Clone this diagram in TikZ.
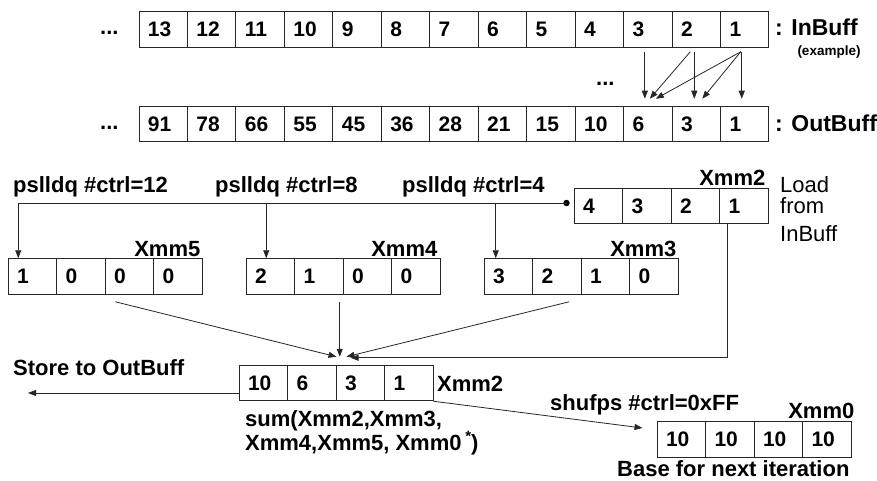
\documentclass[tikz,border=0pt]{standalone}
\usepackage{fontspec}
\setmainfont{Liberation Sans}
\usetikzlibrary{arrows.meta,calc}
\tikzset{
  cell/.style={draw=black!85, line width=1pt, minimum width=48.5pt, minimum height=35.5pt,
    inner sep=0pt, text width=30.5pt, align=left, font=\fontsize{21}{24}\selectfont\bfseries},
  bigcell/.style={cell, minimum width=48.46pt},
  lbl/.style={font=\fontsize{22}{26}\selectfont\bfseries, inner sep=0pt, anchor=base west},
  lblr/.style={lbl, anchor=base east},
  plain/.style={font=\fontsize{22}{26}\selectfont, inner sep=0pt, anchor=base west},
  arr/.style={draw=black!85, line width=0.8pt, -{Triangle[length=8pt,width=6pt]}},
  ln/.style={draw=black!85, line width=0.8pt}
}
\begin{document}
\begin{tikzpicture}[x=1pt,y=-1pt]
\useasboundingbox (0,0) rectangle (877,481);

% InBuff / OutBuff rows
\foreach \v [count=\i from 0] in {13,12,11,10,9,8,7,6,5,4,3,2,1}
  \node[bigcell] (in\i) at ({163.23+48.46*\i},29.5) {\v};
\foreach \v [count=\i from 0] in {91,78,66,55,45,36,28,21,15,10,6,3,1}
  \node[bigcell] (out\i) at ({163.23+48.46*\i},124) {\v};

\node[lbl] (dotsA) at (100,35) {...};
\node[lbl] (dotsB) at (100,130) {...};
\node[lbl] (dotsC) at (596,86) {...};
\node[lbl, font=\fontsize{23}{26}\selectfont\bfseries] (inlbl) at (775,36) {: InBuff};
\node[lbl, font=\fontsize{13.5}{15}\selectfont\bfseries, anchor=base] (exlbl) at (829,56) {(example)};
\node[lbl, font=\fontsize{23}{26}\selectfont\bfseries] (outlbl) at (775,132) {: OutBuff};

% prefix-sum arrows
\draw[arr] ($(in10.south)+(-3,4)$) -- ($(out10.north)+(-3,-7)$);
\draw[arr] ($(in11.south)+(-6,4)$) -- ($(out10.north)+(2,-7)$);
\draw[arr] ($(in11.south)+(-2,4)$) -- ($(out11.north)+(-2,-7)$);
\draw[arr] ($(in12.south)+(-4,4)$) -- ($(out10.north)+(8,-7)$);
\draw[arr] ($(in12.south)+(-4,4)$) -- ($(out11.north)+(6,-7)$);
\draw[arr] ($(in12.south)+(-3,4)$) -- ($(out12.north)+(-3,-7)$);

% registers
\foreach \v [count=\i from 0] in {4,3,2,1}
  \node[cell] (xb\i) at ({598.25+48.5*\i},206) {\v};
\foreach \v [count=\i from 0] in {1,0,0,0}
  \node[cell] (xf\i) at ({32.25+48.5*\i},276.5) {\v};
\foreach \v [count=\i from 0] in {2,1,0,0}
  \node[cell] (xe\i) at ({270.25+48.5*\i},276.5) {\v};
\foreach \v [count=\i from 0] in {3,2,1,0}
  \node[cell] (xd\i) at ({508.25+48.5*\i},276.5) {\v};
\foreach \v [count=\i from 0] in {10,6,3,1}
  \node[cell] (s\i) at ({263.25+48.5*\i},383) {\v};
\foreach \v [count=\i from 0] in {10,10,10,10}
  \node[cell] (z\i) at ({681.25+48.5*\i},439.5) {\v};

\node[lblr] (lxb) at ($(xb3.north east)+(-3,-2)$) {Xmm2};
\node[lblr] (lxf) at ($(xf3.north east)+(-2,-1.5)$) {Xmm5};
\node[lblr] (lxe) at ($(xe3.north east)+(-3,-1.5)$) {Xmm4};
\node[lblr] (lxd) at ($(xd3.north east)+(-2,-1.5)$) {Xmm3};
\node[lbl, anchor=base west] (ls) at (437,391) {Xmm2};
\node[lblr] (lz) at ($(z3.north east)+(3,-3)$) {Xmm0};

\node[plain] (load1) at (780,192) {Load};
\node[plain] (load2) at (780,213) {from};
\node[plain] (load3) at (780,241) {InBuff};

\node[lbl] (p12) at (13,192) {pslldq \#ctrl=12};
\node[lbl] (p8) at (215,192) {pslldq \#ctrl=8};
\node[lbl] (p4) at (402,192) {pslldq \#ctrl=4};

% shift distribution line
\coordinate (dot) at ($(xb0.west)+(-7,-3)$);
\fill[black] (dot) circle (3.2);
\draw[arr] (dot) -| ($(xf0.north)+(-14,0)$);
\coordinate (t4) at ($(xe0.north)+(-4,0)$);
\coordinate (t3) at ($(xd0.north)+(-12.5,0)$);
\draw[arr] (t4 |- dot) -- (t4);
\draw[arr] (t3 |- dot) -- (t3);

% into sum
\coordinate (tipy) at ($(s1.north east)+(0,-8)$);
\coordinate (v4) at ($(xe1.south)+(21,7)$);
\draw[arr] ($(xf2.south)+(-14,7)$) -- ($(s1.north east)+(0,-8)$);
\draw[arr] (v4) -- (v4 |- tipy);
\draw[arr] ($(xd1.south)+(12.5,7)$) -- ($(s1.north east)+(10,-8)$);
\draw[arr] ($(xb3.south)+(-16.5,0)$) |- ($(s1.north east)+(14,-7)$);

% sum outputs
\node[lbl] (store) at (13,375) {Store to OutBuff};
\coordinate (storeend) at (28,393);
\draw[arr] ($(s0.west)+(0,10)$) -- (storeend);

\node[lbl] (sum1) at (245,426) {sum(Xmm2,Xmm3,};
\node[lbl] (sum2) at (245,450) {Xmm4,Xmm5, Xmm0\,\raisebox{9pt}{\fontsize{15}{15}\selectfont *})};

\node[lbl] (shuf) at (550,410) {shufps \#ctrl=0xFF};
\draw[arr] (s3.south east) -- ($(z0.west)+(-14,-11.5)$);
\node[lbl] (base) at (617,476.5) {Base for next iteration};
\end{tikzpicture}
\end{document}
